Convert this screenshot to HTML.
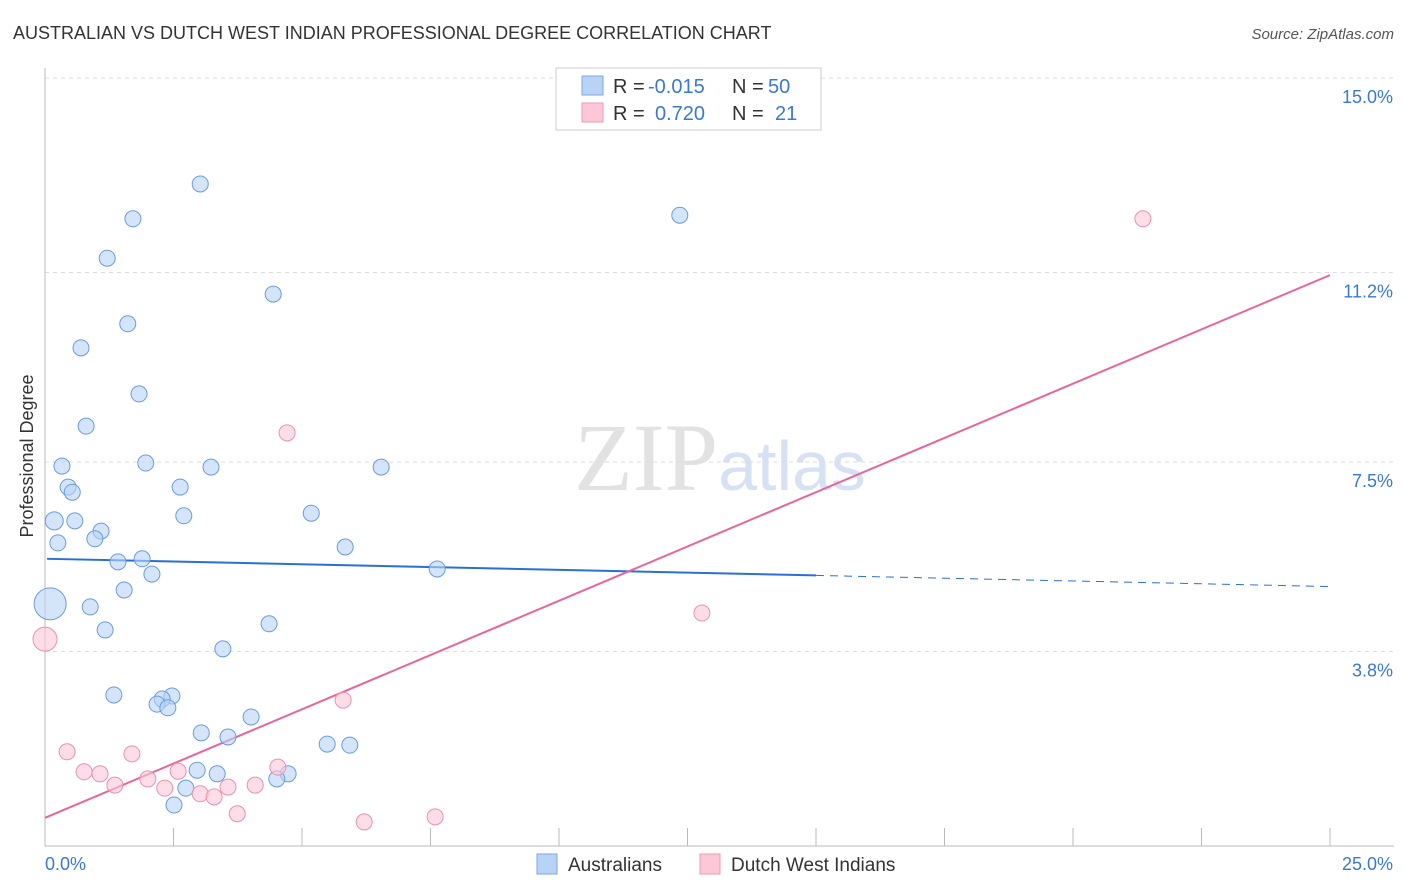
<!DOCTYPE html>
<html><head><meta charset="utf-8"><style>
body{margin:0;background:#fff;font-family:"Liberation Sans",sans-serif;}
</style></head><body>
<svg id="chart" width="1406" height="892" xmlns="http://www.w3.org/2000/svg" style="display:block">
<text x="13" y="39" font-size="18" fill="#333">AUSTRALIAN VS DUTCH WEST INDIAN PROFESSIONAL DEGREE CORRELATION CHART</text>
<text x="1394" y="39" font-size="15" fill="#555" text-anchor="end" font-style="italic">Source: ZipAtlas.com</text>
<text x="720" y="490" font-size="96" text-anchor="middle" font-family="Liberation Serif" fill="#e2e2e2">ZIP<tspan fill="#d6e2f3" font-family="Liberation Sans" font-size="70">atlas</tspan></text>
<text transform="translate(33,456) rotate(-90)" font-size="18" fill="#333" text-anchor="middle">Professional Degree</text>
<g id="grid"></g><g id="trends"></g><g id="points"></g>
<g>
<rect x="556" y="68" width="265" height="62" fill="#fff" stroke="#ccc"/>
<rect x="582" y="76" width="21" height="19" fill="#b8d3f5" stroke="#7aa8e0"/>
<rect x="582" y="103" width="21" height="19" fill="#fcc8d8" stroke="#ee9ab5"/>
<text x="613" y="93" font-size="20" fill="#333">R =</text>
<text x="648" y="93" font-size="20" fill="#3a78d6">-0.015</text>
<text x="732" y="93" font-size="20" fill="#333">N =</text>
<text x="768" y="93" font-size="20" fill="#3a78d6">50</text>
<text x="613" y="120" font-size="20" fill="#333">R =</text>
<text x="655" y="120" font-size="20" fill="#3a78d6">0.720</text>
<text x="732" y="120" font-size="20" fill="#333">N =</text>
<text x="775" y="120" font-size="20" fill="#3a78d6">21</text>
</g>
<g>
<rect x="537" y="854" width="20" height="20" fill="#b8d3f5" stroke="#7aa8e0"/>
<text x="568" y="871" font-size="19" fill="#333">Australians</text>
<rect x="700" y="854" width="20" height="20" fill="#fcc8d8" stroke="#ee9ab5"/>
<text x="731" y="871" font-size="19" fill="#333">Dutch West Indians</text>
</g>
</svg>
<script>
const yTicks=[3.8,7.5,11.2,15.0];
const yTickLabels=["3.8%","7.5%","11.2%","15.0%"];
const xTickLabels=["0.0%","25.0%"];
const blueX=[3.02,1.71,12.35,1.21,4.44,1.61,0.70,1.83,0.80,0.33,1.96,3.23,6.54,0.45,0.53,2.63,0.18,0.58,2.70,5.18,1.09,0.97,0.25,5.84,1.42,1.89,2.08,7.63,1.54,0.88,0.10,1.17,4.36,3.46,1.34,2.47,2.28,2.18,2.39,4.01,3.04,3.56,5.49,5.93,2.96,3.35,4.73,4.51,2.74,2.51];
const blueY=[12.93,12.25,12.32,11.48,10.78,10.20,9.73,8.83,8.20,7.42,7.48,7.40,7.40,7.01,6.91,7.01,6.35,6.35,6.45,6.50,6.15,6.00,5.92,5.84,5.55,5.61,5.31,5.41,5.00,4.67,4.73,4.22,4.34,3.85,2.95,2.93,2.87,2.77,2.70,2.52,2.21,2.13,1.99,1.97,1.48,1.41,1.41,1.31,1.13,0.80];
const blueSize=[8,8,8,8,8,8,8,8,8,8,8,8,8,8,8,8,9,8,8,8,8,8,8,8,8,8,8,8,8,8,16,8,8,8,8,8,8,8,8,8,8,8,8,8,8,8,8,8,8,8];
const pinkX=[21.36,4.71,12.78,0.0,5.80,0.43,1.69,0.76,1.07,2.00,2.59,1.36,2.33,3.02,3.29,3.56,4.09,4.53,3.74,6.21,7.59];
const pinkY=[12.25,8.07,4.55,4.04,2.85,1.84,1.80,1.45,1.41,1.31,1.46,1.19,1.13,1.02,0.96,1.15,1.19,1.54,0.63,0.47,0.57];
const pinkSize=[8,8,8,12,8,8,8,8,8,8,8,8,8,8,8,8,8,8,8,8,8];
const blueTrend=[5.61,-0.0217];
const pinkTrend=[0.55,0.424];
const NS="http://www.w3.org/2000/svg";
const X=v=>45+v*51.4, Y=v=>846-v*51.2;
function mk(t,a,p){const e=document.createElementNS(NS,t);for(const k in a)e.setAttribute(k,a[k]);p.appendChild(e);return e;}
const grid=document.getElementById('grid');
yTicks.forEach((t,i)=>{
 const l=mk('line',{x1:45,x2:1394,y1:Y(t),y2:Y(t),stroke:'#ddd','stroke-dasharray':'4,4'},grid);
 
 
 const tx=mk('text',{x:1393,y:Y(t)+25,'font-size':18,fill:'#3a78d6','text-anchor':'end'},grid);tx.textContent=yTickLabels[i];
 
 
});
const ax=mk('line',{x1:45,x2:45,y1:68,y2:846,stroke:'#bbb'},grid);


const bx=mk('line',{x1:45,x2:1394,y1:846,y2:846,stroke:'#bbb'},grid);


for(let v=2.5;v<=25;v+=2.5){const t=mk('line',{x1:X(v),x2:X(v),y1:828,y2:846,stroke:'#bbb'},grid);
 
 }
[[0,'start',45],[25,'end',1393]].forEach((d,i)=>{const t=mk('text',{x:d[2],y:870,'font-size':18,fill:'#3a78d6','text-anchor':d[1]},grid);t.textContent=xTickLabels[i];
 
 });
const pts=document.getElementById('points');
function dots(xs,ys,ss,fill,stroke,name){xs.forEach((x,i)=>{const c=mk('circle',{cx:X(x),cy:Y(ys[i]),r:ss[i],fill:fill,stroke:stroke,'stroke-width':1,'fill-opacity':0.6},pts);
 
 });}
dots(blueX,blueY,blueSize,'#b8d3f5','#6a9be0','australians-point');
dots(pinkX,pinkY,pinkSize,'#fcc8d8','#eb91ad','dutch-west-indians-point');
const tr=document.getElementById('trends');
const f=(t,x)=>t[0]+t[1]*x;
let l1=mk('line',{x1:X(0.04),y1:Y(f(blueTrend,0.04)),x2:X(15),y2:Y(f(blueTrend,15)),stroke:'#2a6fd6','stroke-width':2},tr);


let l2=mk('line',{x1:X(15),y1:Y(f(blueTrend,15)),x2:X(24.96),y2:Y(f(blueTrend,24.96)),stroke:'#2a6fd6','stroke-width':1,'stroke-dasharray':'8,6'},tr);


let l3=mk('line',{x1:X(0),y1:Y(f(pinkTrend,0)),x2:X(25),y2:Y(f(pinkTrend,25)),stroke:'#e8659a','stroke-width':2},tr);


</script>
</body></html>
